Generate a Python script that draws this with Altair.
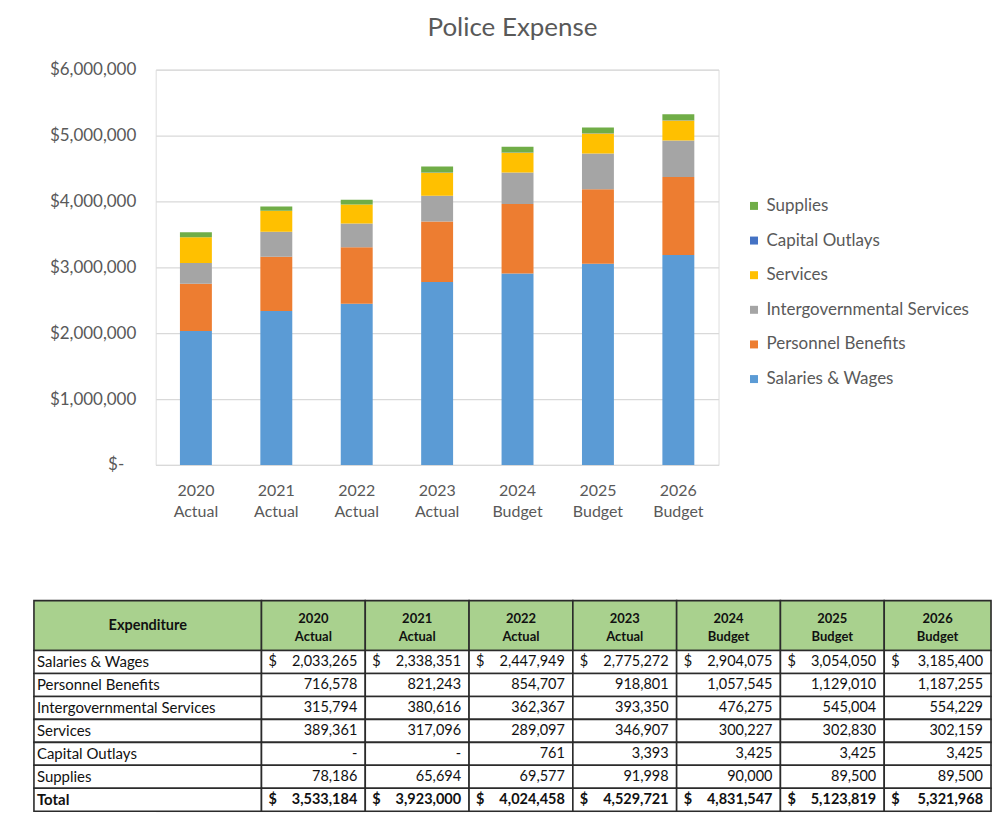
import altair as alt
import pandas as pd

# ---------------- data ----------------
years = ["2020", "2021", "2022", "2023", "2024", "2025", "2026"]
phases = ["Actual", "Actual", "Actual", "Actual", "Budget", "Budget", "Budget"]
categories = ["Salaries & Wages", "Personnel Benefits", "Intergovernmental Services",
              "Services", "Capital Outlays", "Supplies"]
salaries = [2033265, 2338351, 2447949, 2775272, 2904075, 3054050, 3185400]
personnel = [716578, 821243, 854707, 918801, 1057545, 1129010, 1187255]
intergov = [315794, 380616, 362367, 393350, 476275, 545004, 554229]
services = [389361, 317096, 289097, 346907, 300227, 302830, 302159]
capital = [0, 0, 761, 3393, 3425, 3425, 3425]
supplies = [78186, 65694, 69577, 91998, 90000, 89500, 89500]
totals = [3533184, 3923000, 4024458, 4529721, 4831547, 5123819, 5321968]
colors = ["#5B9BD5", "#ED7D31", "#A5A5A5", "#FFC000", "#4472C4", "#70AD47"]
yticks = [0, 1000000, 2000000, 3000000, 4000000, 5000000, 6000000]

FONT = "Lato"
GRAY = "#595959"

series = [salaries, personnel, intergov, services, capital, supplies]
periods = [f"{y} {p}" for y, p in zip(years, phases)]

rows = []
for ci, (cat, vals) in enumerate(zip(categories, series)):
    for yi, per in enumerate(periods):
        rows.append({"period": per, "category": cat, "value": vals[yi], "order": ci})
df = pd.DataFrame(rows)

# ---------------- bar chart ----------------
bars = alt.Chart(df).mark_bar(size=32).encode(
    x=alt.X("period:N", sort=periods,
            scale=alt.Scale(paddingInner=0, paddingOuter=0),
            axis=alt.Axis(title=None, labelExpr="split(datum.value, ' ')", labelAngle=0,
                          ticks=False, domain=True, domainColor="#D9D9D9",
                          labelFont=FONT, labelFontSize=16, labelColor=GRAY,
                          labelLineHeight=21, labelPadding=18)),
    y=alt.Y("value:Q", stack="zero",
            scale=alt.Scale(domain=[0, 6000000], nice=False),
            axis=alt.Axis(title=None, values=yticks,
                          labelExpr="datum.value == 0 ? '$-' : '$' + format(datum.value, ',')",
                          ticks=False, domain=False, grid=True, gridColor="#D9D9D9",
                          gridWidth=1.2, labelFont=FONT, labelFontSize=17,
                          labelColor=GRAY,
                          labelPadding={"condition": {"test": "datum.value == 0", "value": 32},
                                        "value": 20})),
    color=alt.Color("category:N",
                    scale=alt.Scale(domain=categories[::-1], range=colors[::-1]),
                    legend=alt.Legend(title=None, orient="none", legendX=591, legendY=128,
                                      symbolType="square", symbolSize=64,
                                      symbolStrokeWidth=0, labelFont=FONT,
                                      labelFontSize=17, labelColor=GRAY, labelLimit=0,
                                      rowPadding=16.7, labelOffset=4)),
    order=alt.Order("order:Q", sort="ascending"),
).properties(width=564, height=396)

# ---------------- table ----------------
col_w = [228] + [104] * 6 + [107]
row_h = [50] + [23] * 7
xs = [0]
for w in col_w:
    xs.append(xs[-1] + w)
ys = [0]
for h in row_h:
    ys.append(ys[-1] + h)

row_labels = categories + ["Total"]
table_vals = series + [totals]

cells = []
for r in range(len(row_h)):
    for c in range(len(col_w)):
        cells.append({"x0": xs[c], "x1": xs[c + 1], "y0": ys[r], "y1": ys[r + 1],
                      "fill": "#A9D18E" if r == 0 else "#FFFFFF"})
cells_df = pd.DataFrame(cells)

hc = (ys[0] + ys[1]) / 2
exp_df = pd.DataFrame([{"x": (xs[0] + xs[1]) / 2, "y": hc, "t": "Expenditure"}])
year_df = pd.DataFrame([{"x": (xs[c + 1] + xs[c + 2]) / 2, "y": hc - 7, "t": years[c]}
                        for c in range(7)])
phase_df = pd.DataFrame([{"x": (xs[c + 1] + xs[c + 2]) / 2, "y": hc + 11, "t": phases[c]}
                         for c in range(7)])

lab_rows, dollar_rows, num_rows = [], [], []
for r, (lab, vals) in enumerate(zip(row_labels, table_vals)):
    ri = r + 1
    yc = (ys[ri] + ys[ri + 1]) / 2
    bold = lab == "Total"
    lab_rows.append({"x": xs[0] + 3, "y": yc, "t": lab, "bold": bold})
    for c in range(7):
        v = vals[c]
        txt = f"{v:,}" if v else "-\u00a0\u00a0\u00a0\u00a0\u00a0\u00a0"
        num_rows.append({"x": xs[c + 2] - 8, "y": yc, "t": txt, "bold": bold})
        if lab in ("Salaries & Wages", "Total"):
            dollar_rows.append({"x": xs[c + 1] + 7, "y": yc, "t": "$", "bold": bold})
lab_df = pd.DataFrame(lab_rows)
dollar_df = pd.DataFrame(dollar_rows)
num_df = pd.DataFrame(num_rows)

# table is drawn so that its left edge sits 122px left of the bar plot's left edge
SHIFT = 122
TW, TH = xs[-1], ys[-1]
xsc = alt.Scale(domain=[SHIFT, TW], nice=False, zero=False)
ysc = alt.Scale(domain=[0, TH], nice=False, zero=False, reverse=True)

cell_layer = alt.Chart(cells_df).mark_rect(stroke="#2b2b2b", strokeWidth=1.6).encode(
    x=alt.X("x0:Q", scale=xsc, axis=None), x2="x1:Q",
    y=alt.Y("y0:Q", scale=ysc, axis=None), y2="y1:Q",
    fill=alt.Fill("fill:N", scale=None))


def txt_layer(data, align, bold, size=15, **kw):
    return alt.Chart(data).mark_text(align=align, baseline="middle", font=FONT,
                                     fontSize=size, color="#111111",
                                     fontWeight="bold" if bold else "normal", **kw).encode(
        x=alt.X("x:Q", scale=xsc, axis=None),
        y=alt.Y("y:Q", scale=ysc, axis=None),
        text="t:N")


layers = [cell_layer,
          txt_layer(exp_df, "center", True, size=14.5),
          txt_layer(year_df, "center", True, size=13),
          txt_layer(phase_df, "center", True, size=13)]
for d, al, sz in [(lab_df, "left", 15), (dollar_df, "left", 14.5), (num_df, "right", 14.5)]:
    layers.append(txt_layer(d[~d["bold"]], al, False, size=sz))
    layers.append(txt_layer(d[d["bold"]], al, True, size=sz))

table = alt.layer(*layers).properties(width=TW - SHIFT, height=TH)

chart = alt.vconcat(bars, table, spacing=78).properties(
    title=alt.Title("Police Expense", fontSize=26, font=FONT, fontWeight="normal",
                    color=GRAY, anchor="middle", offset=19),
    padding={"left": 24, "top": 6, "right": 0, "bottom": 5},
).configure_view(stroke=None).configure(background="#FFFFFF")

chart.save("out.html", embed_options={"renderer": "svg", "actions": False})
